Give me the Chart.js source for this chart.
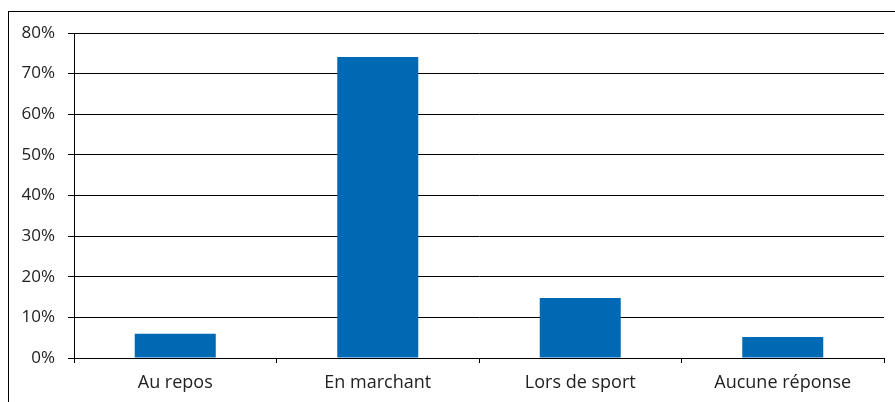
<!DOCTYPE html>
<html>
<head>
<meta charset="utf-8">
<script src="https://cdn.jsdelivr.net/npm/chart.js@4.4.1/dist/chart.umd.min.js"></script>
<style>
  html, body { margin: 0; padding: 0; background: #fff; }
  #wrap { position: relative; width: 895px; height: 402px; overflow: hidden; }
  #frame { position: absolute; left: 8px; top: 11px; width: 1000px; height: 1000px; border-left: 1.5px solid #000; border-top: 1.5px solid #000; box-sizing: border-box; }
  canvas { position: absolute; left: 0; top: 0; }
</style>
</head>
<body>
<div id="wrap">
  <div id="frame"></div>
  <canvas id="c" width="895" height="402"></canvas>
</div>
<script>
const categories = ["Au repos", "En marchant", "Lors de sport", "Aucune réponse"];
const values = [6.0, 74.1, 14.8, 5.2];
const yTicks = [0, 10, 20, 30, 40, 50, 60, 70, 80];

const FONT_Y = { family: "'Open Sans', 'Liberation Sans', sans-serif", size: 17 };
const FONT_X = { family: "'Open Sans', 'Liberation Sans', sans-serif", size: 18 };

new Chart(document.getElementById('c'), {
  type: 'bar',
  data: {
    labels: categories,
    datasets: [{
      data: values,
      backgroundColor: '#0069B4',
      borderWidth: 0,
      barPercentage: 0.4,
      categoryPercentage: 1.0
    }]
  },
  options: {
    responsive: false,
    animation: false,
    events: [],
    layout: { padding: { left: 0, right: 11, top: 33, bottom: 0 } },
    plugins: { legend: { display: false }, tooltip: { enabled: false } },
    scales: {
      x: {
        offset: true,
        grid: { display: true, drawOnChartArea: false, drawTicks: true, tickLength: 5, color: '#000', lineWidth: 1, offset: true },
        border: { display: false },
        ticks: { color: '#222', font: FONT_X, padding: 9, maxRotation: 0 },
        afterFit: s => { s.height = 44; }
      },
      y: {
        min: 0, max: 80,
        afterBuildTicks: s => { s.ticks = yTicks.map(v => ({ value: v })); },
        grid: { color: '#000', lineWidth: 1, tickLength: 6, drawTicks: true },
        border: { display: true, color: '#000', width: 1 },
        ticks: { color: '#222', font: FONT_Y, padding: 13, callback: v => v + '%' },
        afterFit: s => { s.width = 74; }
      }
    }
  }
});
</script>
</body>
</html>
